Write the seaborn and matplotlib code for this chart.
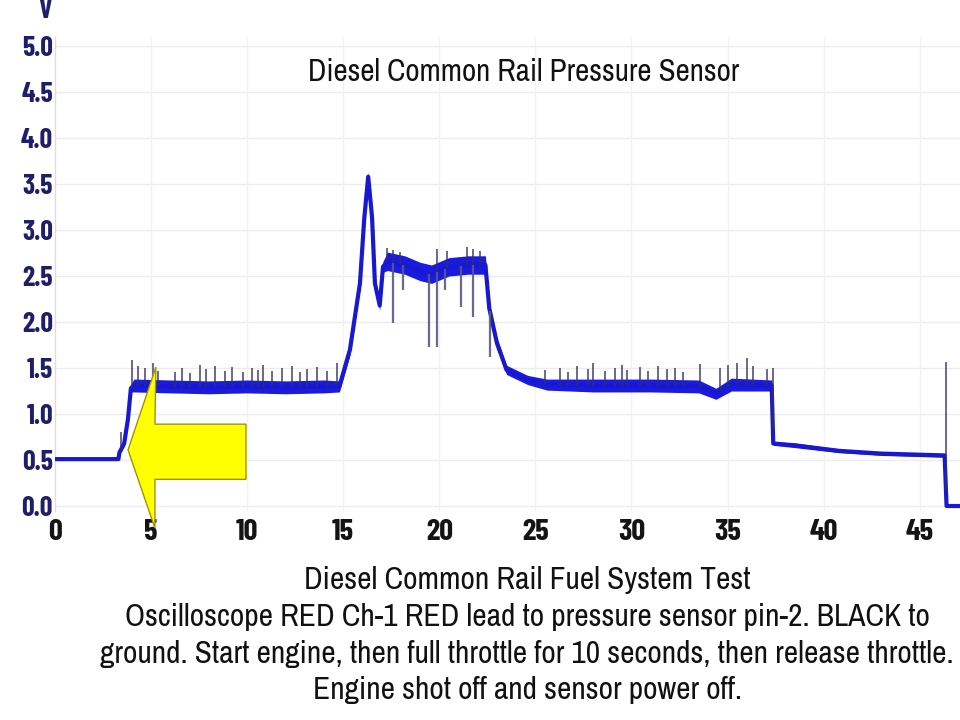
import numpy as np
import matplotlib
matplotlib.use('Agg')
import matplotlib.pyplot as plt
from matplotlib.patches import Polygon
import seaborn as sns

# trace: time (s), centre voltage (V), half width of the noise band
trace_t = [0.0, 3.3, 3.35, 3.45, 3.6, 3.8, 3.95, 4.1, 6.0, 8.0, 10.0, 12.0, 14.0, 14.8,
           15.35, 15.87, 16.1, 16.3, 16.5, 16.65, 16.9, 17.07, 17.3, 18.2, 19.0, 19.6,
           20.5, 21.5, 22.4, 22.6, 23.0, 23.5, 24.6, 25.6, 28.0, 31.0, 33.5, 34.4,
           35.2, 37.3, 37.38, 38.5, 40.8, 43.0, 46.3, 46.4, 47.1]
trace_v = [0.51, 0.51, 0.58, 0.62, 0.68, 0.95, 1.28, 1.31, 1.30, 1.29, 1.30, 1.29, 1.30, 1.30,
           1.70, 2.42, 3.14, 3.58, 3.14, 2.42, 2.18, 2.60, 2.66, 2.62, 2.55, 2.52,
           2.60, 2.62, 2.62, 2.15, 1.77, 1.48, 1.37, 1.32, 1.31, 1.31, 1.30, 1.22,
           1.32, 1.31, 0.68, 0.66, 0.60, 0.57, 0.55, 0.0, 0.0]
trace_spread = [0.015, 0.015, 0.02, 0.03, 0.03, 0.03, 0.04, 0.07, 0.07, 0.07, 0.07, 0.07, 0.07, 0.06,
                0.06, 0.06, 0.07, 0.05, 0.06, 0.06, 0.05, 0.06, 0.10, 0.10, 0.10, 0.10,
                0.10, 0.10, 0.10, 0.06, 0.06, 0.05, 0.05, 0.06, 0.07, 0.07, 0.07, 0.06,
                0.07, 0.06, 0.02, 0.025, 0.02, 0.02, 0.02, 0.01, 0.01]

# upward glitches on the trace
up_spike_t = [3.42, 4.01, 4.32, 4.68, 5.10, 5.36, 6.24, 6.61, 7.02, 7.54, 7.86, 8.32, 8.84,
              9.21, 9.78, 10.25, 10.56, 10.82, 11.29, 11.81, 12.33, 12.75, 13.11, 13.63,
              14.15, 14.67, 17.27, 17.59, 17.95, 19.88, 20.4, 21.44, 21.75, 22.11,
              25.49, 26.27, 26.69, 27.16, 27.73, 27.99, 28.62, 29.14, 29.5, 29.76, 30.44,
              30.85, 31.38, 31.84, 32.26, 32.67, 33.56, 34.6, 35.01, 35.48, 36.0, 36.32,
              37.04, 37.36, 46.37]
up_spike_top = [0.80, 1.59, 1.52, 1.50, 1.55, 1.47, 1.46, 1.50, 1.45, 1.53, 1.49, 1.52, 1.47,
                1.51, 1.46, 1.50, 1.48, 1.53, 1.47, 1.50, 1.52, 1.46, 1.49, 1.51,
                1.47, 1.55, 2.80, 2.78, 2.76, 2.79, 2.77, 2.82, 2.79, 2.77,
                1.48, 1.50, 1.46, 1.52, 1.49, 1.55, 1.47, 1.50, 1.53, 1.48, 1.51,
                1.47, 1.52, 1.49, 1.50, 1.46, 1.54, 1.50, 1.53, 1.56, 1.61, 1.52,
                1.49, 1.50, 1.57]

# downward glitches at full throttle
down_spike_t = [17.59, 18.1, 19.46, 19.88, 20.29, 21.12, 21.75, 22.63]
down_spike_bottom = [1.99, 2.35, 1.73, 1.73, 2.35, 2.16, 2.06, 1.62]

x_ticks = [0, 5, 10, 15, 20, 25, 30, 35, 40, 45]
y_ticks = [0.0, 0.5, 1.0, 1.5, 2.0, 2.5, 3.0, 3.5, 4.0, 4.5, 5.0]

title = 'Diesel Common Rail Pressure Sensor'
caption = ['Diesel Common Rail Fuel System Test',
           'Oscilloscope RED Ch-1 RED lead to pressure sensor pin-2. BLACK to',
           'ground. Start engine, then full throttle for 10 seconds, then release throttle.',
           'Engine shot off and sensor power off.']

# yellow pointer arrow (data coords)
arrow_xy = [(3.8, 0.61), (5.25, 1.51), (5.2, 0.89), (9.94, 0.89),
            (9.94, 0.29), (5.2, 0.29), (5.2, -0.24)]

sns.set_style('white')
plt.rcParams['font.family'] = ['Archivo Narrow', 'DejaVu Sans']
tick_font = ['Barlow Condensed', 'DejaVu Sans']

fig = plt.figure(figsize=(9.6, 7.2), dpi=100)
ax = fig.add_axes([0.0573, 0.2908, 0.9427, 0.658])

t = np.array(trace_t)
v = np.array(trace_v)
s = np.array(trace_spread)

ax.fill_between(t, v - s, v + s, color='#1a1ae0', lw=0, zorder=3)
sns.lineplot(x=trace_t, y=trace_v, ax=ax, sort=False, estimator=None,
             color='#1818d0', lw=3.0, zorder=4)

base_up = np.interp(up_spike_t, t, v)
ax.vlines(up_spike_t, base_up, up_spike_top, color='#30306a', lw=1.2, alpha=0.85, zorder=4)
base_dn = np.interp(down_spike_t, t, v)
ax.vlines(down_spike_t, down_spike_bottom, base_dn, color='#5a5a80', lw=1.6, alpha=0.9, zorder=4)

ax.add_patch(Polygon(arrow_xy, closed=True, facecolor='#ffff00', edgecolor='#a09400',
                     lw=1.0, zorder=6, clip_on=False))

ax.set_xlim(0, 47.1)
ax.set_ylim(-0.05, 5.1)
ax.set_xticks(x_ticks)
ax.set_xticklabels([str(x) for x in x_ticks], fontsize=22, fontweight='bold',
                   color='#141414', family=tick_font)
ax.set_yticks(y_ticks)
ax.set_yticklabels(['%.1f' % y for y in y_ticks], fontsize=20, fontweight='bold',
                   color='#1e1e6a', family=tick_font)
ax.tick_params(length=0)
ax.tick_params(axis='x', pad=6)
ax.tick_params(axis='y', pad=1.5)

for y in y_ticks:
    ax.axhline(y, color='#ececec', lw=1, zorder=1)
for x in x_ticks[1:]:
    ax.axvline(x, color='#f2f2f2', lw=1, zorder=1)

for sp in ['top', 'right', 'bottom']:
    ax.spines[sp].set_visible(False)
ax.spines['left'].set_color('#dddddd')
ax.spines['left'].set_linewidth(1)

fig.text(0.047, 1 - 10 / 720, 'V', ha='center', va='center', fontsize=20,
         fontweight='bold', color='#1e1e6a', family=tick_font)
fig.text(0.545, 0.90, title, ha='center', va='center', fontsize=22.4, color='#111111')

cap_y = [0.1944, 0.143, 0.0917, 0.0417]
for line, y in zip(caption, cap_y):
    fig.text(0.549, y, line, ha='center', va='center', fontsize=22.6, color='#111111')

fig.savefig('out.png', dpi=100, facecolor='white')
